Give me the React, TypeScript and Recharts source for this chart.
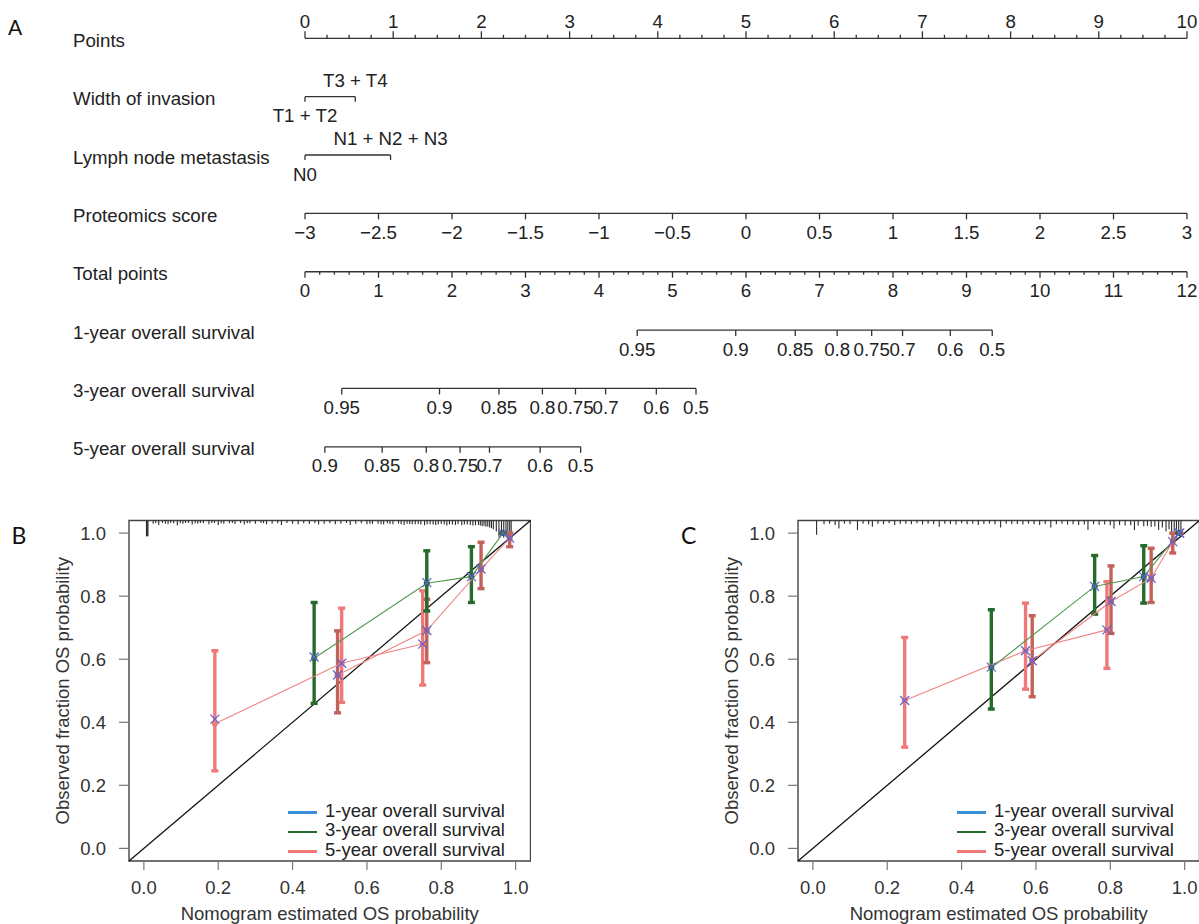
import React from 'react';
import { ScatterChart, Scatter, XAxis, YAxis, ReferenceLine, ReferenceArea, ErrorBar, Legend } from 'recharts';

const FONT = '"Liberation Sans", Arial, Helvetica, sans-serif';
const INK = '#333';
const TXT = '#222';
const NOMO_FS = 18.7;

// ---------- nomogram (panel A) ----------
const rowNames = [
  'Points',
  'Width of invasion',
  'Lymph node metastasis',
  'Proteomics score',
  'Total points',
  '1-year overall survival',
  '3-year overall survival',
  '5-year overall survival',
];
const pointsTicks = [0, 1, 2, 3, 4, 5, 6, 7, 8, 9, 10];
const invasionLevels = ['T1 + T2', 'T3 + T4'];
const invasionPoints = [0, 0.57];
const lymphLevels = ['N0', 'N1 + N2 + N3'];
const lymphPoints = [0, 0.97];
const proteomicsTicks = [-3, -2.5, -2, -1.5, -1, -0.5, 0, 0.5, 1, 1.5, 2, 2.5, 3];
const totalTicks = [0, 1, 2, 3, 4, 5, 6, 7, 8, 9, 10, 11, 12];
const survLabels13 = ['0.95', '0.9', '0.85', '0.8', '0.75', '0.7', '0.6', '0.5'];
const oneYearAt = [4.52, 5.86, 6.67, 7.24, 7.71, 8.13, 8.78, 9.35];
const threeYearAt = [0.5, 1.83, 2.64, 3.23, 3.68, 4.09, 4.78, 5.32];
const survLabels5 = ['0.9', '0.85', '0.8', '0.75', '0.7', '0.6', '0.5'];
const fiveYearAt = [0.27, 1.05, 1.65, 2.11, 2.51, 3.2, 3.75];

type Tick = { x: number; y: number; len: number; dir: number; label?: string; below?: boolean };

const minus = (v: number) => String(v).replace('-', '\u2212');

function pointsRowTicks(): Tick[] {
  const t: Tick[] = [];
  pointsTicks.forEach((v, i) => {
    t.push({ x: v, y: 0, len: 7, dir: -1, label: String(v) });
    if (i < pointsTicks.length - 1) [0.25, 0.5, 0.75].forEach((f) => t.push({ x: v + f, y: 0, len: 3.5, dir: -1 }));
  });
  invasionPoints.forEach((v, i) => t.push({ x: v, y: 1, len: 5, dir: 1, label: invasionLevels[i], below: i === 0 }));
  lymphPoints.forEach((v, i) => t.push({ x: v, y: 2, len: 5, dir: 1, label: lymphLevels[i], below: i === 0 }));
  proteomicsTicks.forEach((s) => t.push({ x: ((s + 3) * 10) / 6, y: 3, len: 6, dir: 1, label: minus(s), below: true }));
  return t;
}

function totalRowTicks(): Tick[] {
  const t: Tick[] = [];
  totalTicks.forEach((v, i) => {
    t.push({ x: v, y: 4, len: 6, dir: 1, label: String(v), below: true });
    if (i < totalTicks.length - 1) [0.2, 0.4, 0.6, 0.8].forEach((f) => t.push({ x: v + f, y: 4, len: 3, dir: 1 }));
  });
  oneYearAt.forEach((v, i) => t.push({ x: v, y: 5, len: 6, dir: 1, label: survLabels13[i], below: true }));
  threeYearAt.forEach((v, i) => t.push({ x: v, y: 6, len: 6, dir: 1, label: survLabels13[i], below: true }));
  fiveYearAt.forEach((v, i) => t.push({ x: v, y: 7, len: 6, dir: 1, label: survLabels5[i], below: true }));
  return t;
}

const NomoTick = (p: any) => {
  const { cx, cy, payload } = p;
  if (cx == null || cy == null) return <g />;
  return (
    <g>
      <line x1={cx} x2={cx} y1={cy} y2={cy + payload.dir * payload.len} stroke={INK} strokeWidth={1.3} />
      {payload.label && (
        <text
          x={cx}
          y={payload.below ? cy + 25.5 : cy - 10}
          textAnchor="middle"
          fontSize={NOMO_FS}
          fontFamily={FONT}
          fill={TXT}
        >
          {payload.label}
        </text>
      )}
    </g>
  );
};

const RowLabel = (p: any) => (
  <text x={73} y={p.y + 8.5} fontSize={NOMO_FS} fontFamily={FONT} fill={TXT} textAnchor="start">
    {rowNames[p.payload.value]}
  </text>
);

function Nomogram() {
  const segs: { id: string; row: number; from: number; to: number }[] = [
    { id: 'pts', row: 0, from: 0, to: 10 },
    { id: 'pts', row: 1, from: invasionPoints[0], to: invasionPoints[1] },
    { id: 'pts', row: 2, from: lymphPoints[0], to: lymphPoints[1] },
    { id: 'pts', row: 3, from: 0, to: 10 },
    { id: 'tot', row: 4, from: 0, to: 12 },
    { id: 'tot', row: 5, from: oneYearAt[0], to: oneYearAt[oneYearAt.length - 1] },
    { id: 'tot', row: 6, from: threeYearAt[0], to: threeYearAt[threeYearAt.length - 1] },
    { id: 'tot', row: 7, from: fiveYearAt[0], to: fiveYearAt[fiveYearAt.length - 1] },
  ];
  return (
    <div style={{ position: 'absolute', left: 0, top: 0 }}>
      <ScatterChart width={1199} height={480} margin={{ top: 38.3, right: 12, bottom: 33.2, left: 0 }}>
        <XAxis xAxisId="pts" type="number" dataKey="x" domain={[0, 10]} hide />
        <XAxis xAxisId="tot" type="number" dataKey="x" domain={[0, 12]} hide />
        <YAxis
          type="number"
          dataKey="y"
          domain={[0, 7]}
          reversed
          ticks={[0, 1, 2, 3, 4, 5, 6, 7]}
          interval={0}
          width={305}
          axisLine={false}
          tickLine={false}
          tick={RowLabel}
        />
        {segs.map((s, i) => (
          <ReferenceLine
            key={i}
            xAxisId={s.id}
            segment={[{ x: s.from, y: s.row }, { x: s.to, y: s.row }]}
            stroke={INK}
            strokeWidth={1.3}
            ifOverflow="visible"
          />
        ))}
        <Scatter xAxisId="pts" data={pointsRowTicks()} shape={NomoTick} isAnimationActive={false} />
        <Scatter xAxisId="tot" data={totalRowTicks()} shape={NomoTick} isAnimationActive={false} />
      </ScatterChart>
    </div>
  );
}

// ---------- calibration (panels B, C) ----------
const probTicks = [0, 0.2, 0.4, 0.6, 0.8, 1.0];

// panel B
const bGreenX = [0.458, 0.761, 0.881, 0.966];
const bGreenY = [0.603, 0.841, 0.862, 1.0];
const bGreenLo = [0.46, 0.753, 0.78, 1.0];
const bGreenHi = [0.78, 0.944, 0.957, 1.0];
const bGreenMark = [0.607, 0.843, 0.862, 1.0];

const bRedX = [0.191, 0.532, 0.75];
const bRedY = [0.395, 0.587, 0.648];
const bRedLo = [0.246, 0.463, 0.518];
const bRedHi = [0.627, 0.762, 0.817];
const bRedMark = [0.41, 0.587, 0.648];

const bBrickX = [0.521, 0.761, 0.907, 0.984];
const bBrickY = [0.55, 0.691, 0.886, 0.984];
const bBrickLo = [0.43, 0.589, 0.824, 0.957];
const bBrickHi = [0.69, 0.79, 0.971, 1.0];
const bBrickMark = [0.55, 0.691, 0.886, 0.984];

const bRugX = [0.007, 0.009, 0.011, 0.025, 0.032, 0.04, 0.05, 0.058, 0.065, 0.072, 0.08, 0.09, 0.098, 0.105, 0.112, 0.12, 0.13, 0.138, 0.145, 0.152, 0.16, 0.175, 0.183, 0.19, 0.2, 0.208, 0.215, 0.23, 0.238, 0.245, 0.26, 0.27, 0.278, 0.285, 0.3, 0.315, 0.322, 0.33, 0.345, 0.36, 0.37, 0.385, 0.4, 0.415, 0.43, 0.445, 0.46, 0.47, 0.485, 0.5, 0.515, 0.53, 0.545, 0.555, 0.57, 0.585, 0.6, 0.608, 0.615, 0.63, 0.638, 0.645, 0.655, 0.662, 0.67, 0.685, 0.692, 0.7, 0.708, 0.715, 0.722, 0.73, 0.738, 0.745, 0.755, 0.762, 0.77, 0.778, 0.785, 0.792, 0.8, 0.808, 0.815, 0.822, 0.83, 0.838, 0.845, 0.855, 0.862, 0.87, 0.878, 0.885, 0.892, 0.9, 0.905, 0.91, 0.915, 0.92, 0.925, 0.93, 0.935, 0.94, 0.948, 0.955, 0.962, 0.968, 0.974, 0.979, 0.984, 0.988];
const bRugLen = [0.05, 0.05, 0.05, 0.01, 0.008, 0.014, 0.008, 0.01, 0.012, 0.008, 0.009, 0.015, 0.009, 0.01, 0.008, 0.008, 0.013, 0.009, 0.01, 0.008, 0.009, 0.012, 0.008, 0.008, 0.014, 0.009, 0.01, 0.009, 0.008, 0.011, 0.008, 0.013, 0.009, 0.009, 0.01, 0.008, 0.009, 0.012, 0.01, 0.009, 0.014, 0.008, 0.01, 0.012, 0.009, 0.011, 0.008, 0.013, 0.01, 0.009, 0.012, 0.01, 0.008, 0.014, 0.01, 0.009, 0.012, 0.01, 0.011, 0.01, 0.012, 0.013, 0.009, 0.011, 0.012, 0.01, 0.012, 0.014, 0.01, 0.011, 0.012, 0.012, 0.011, 0.013, 0.015, 0.012, 0.012, 0.013, 0.014, 0.012, 0.011, 0.013, 0.016, 0.012, 0.013, 0.014, 0.012, 0.015, 0.013, 0.013, 0.014, 0.016, 0.015, 0.014, 0.016, 0.018, 0.017, 0.02, 0.019, 0.022, 0.024, 0.028, 0.035, 0.05, 0.045, 0.055, 0.05, 0.055, 0.052, 0.04];

// panel C
const cGreenX = [0.48, 0.758, 0.89, 0.985];
const cGreenY = [0.573, 0.831, 0.862, 1.0];
const cGreenLo = [0.442, 0.743, 0.778, 1.0];
const cGreenHi = [0.757, 0.929, 0.96, 1.0];
const cGreenMark = [0.575, 0.831, 0.862, 1.0];

const cRedX = [0.247, 0.572, 0.791];
const cRedY = [0.469, 0.627, 0.693];
const cRedLo = [0.321, 0.505, 0.571];
const cRedHi = [0.669, 0.778, 0.846];
const cRedMark = [0.469, 0.627, 0.693];

const cBrickX = [0.59, 0.802, 0.91, 0.968, 0.987];
const cBrickY = [0.595, 0.783, 0.857, 0.973, 1.0];
const cBrickLo = [0.481, 0.682, 0.78, 0.937, 1.0];
const cBrickHi = [0.738, 0.896, 0.952, 1.0, 1.0];
const cBrickMark = [0.595, 0.783, 0.857, 0.973, 1.0];

const cRugX = [0.01, 0.03, 0.045, 0.06, 0.07, 0.085, 0.1, 0.12, 0.135, 0.15, 0.16, 0.175, 0.19, 0.205, 0.22, 0.235, 0.25, 0.265, 0.28, 0.295, 0.31, 0.325, 0.34, 0.355, 0.37, 0.385, 0.4, 0.415, 0.43, 0.445, 0.46, 0.475, 0.49, 0.505, 0.52, 0.535, 0.55, 0.565, 0.58, 0.595, 0.61, 0.625, 0.64, 0.655, 0.67, 0.685, 0.7, 0.715, 0.73, 0.74, 0.755, 0.77, 0.785, 0.8, 0.81, 0.825, 0.84, 0.855, 0.865, 0.875, 0.89, 0.9, 0.91, 0.92, 0.93, 0.94, 0.95, 0.958, 0.965, 0.972, 0.978, 0.984, 0.99];
const cRugLen = [0.045, 0.012, 0.01, 0.014, 0.025, 0.01, 0.012, 0.03, 0.01, 0.013, 0.02, 0.01, 0.012, 0.009, 0.014, 0.011, 0.01, 0.012, 0.009, 0.013, 0.01, 0.012, 0.02, 0.01, 0.011, 0.013, 0.009, 0.012, 0.01, 0.014, 0.011, 0.01, 0.012, 0.022, 0.01, 0.012, 0.011, 0.013, 0.01, 0.012, 0.014, 0.011, 0.022, 0.012, 0.01, 0.013, 0.012, 0.014, 0.013, 0.03, 0.012, 0.014, 0.013, 0.015, 0.025, 0.014, 0.016, 0.015, 0.03, 0.016, 0.018, 0.017, 0.02, 0.019, 0.03, 0.022, 0.035, 0.028, 0.04, 0.035, 0.045, 0.04, 0.045];

const GREEN = '#246b2c';
const GREEN_LINE = '#4f9a4f';
const RED = '#f07878';
const RED_LINE = '#f08484';
const BRICK = '#c2625a';
const BLUE = '#6464d2';

const legendItems = [
  { name: '1-year overall survival', color: '#3b8fd6' },
  { name: '3-year overall survival', color: GREEN },
  { name: '5-year overall survival', color: RED },
];

const series = (xs: number[], ys: number[], lo: number[], hi: number[], mark: number[]) =>
  xs.map((x, i) => ({ x, y: ys[i], err: [ys[i] - lo[i], hi[i] - ys[i]], mark: mark[i] }));

const rug = (xs: number[], lens: number[]) => xs.map((x, i) => ({ x, y: 1.04, err: [lens[i] ?? 0.01, 0] }));

const errOf = (p: any) => (p && p.payload ? p.payload.err : p.err);

const Dot = (color: string) => (p: any) =>
  p.cx == null ? <g /> : <circle cx={p.cx} cy={p.cy} r={3} fill={color} />;

const Cross = (p: any) => {
  if (p.cx == null) return <g />;
  const s = 4.5;
  return (
    <g stroke={BLUE} strokeWidth={1.3}>
      <line x1={p.cx - s} y1={p.cy - s} x2={p.cx + s} y2={p.cy + s} />
      <line x1={p.cx - s} y1={p.cy + s} x2={p.cx + s} y2={p.cy - s} />
    </g>
  );
};

const Nothing = () => <g />;

const CalLegend = () => (
  <div style={{ fontFamily: FONT, fontSize: 18.5, color: TXT }}>
    {legendItems.map((it) => (
      <div key={it.name} style={{ height: 19.3, lineHeight: '19.3px', whiteSpace: 'nowrap', display: 'flex', alignItems: 'center' }}>
        <span style={{ display: 'inline-block', width: 29, height: 2.6, background: it.color, marginRight: 8, marginTop: 4 }} />
        <span>{it.name}</span>
      </div>
    ))}
  </div>
);

type CalProps = {
  left: number;
  green: any[];
  red: any[];
  brick: any[];
  rugData: any[];
};

function CalPanel({ left, green, red, brick, rugData }: CalProps) {
  const axisFont = { fill: '#333', fontSize: 18.5, fontFamily: FONT };
  const sets = [
    { data: red, color: RED, line: RED_LINE },
    { data: brick, color: BRICK, line: RED_LINE },
    { data: green, color: GREEN, line: GREEN_LINE },
  ];
  return (
    <div style={{ position: 'absolute', left, top: 480 }}>
      <ScatterChart width={530.5} height={444} margin={{ top: 40.5, right: 0, bottom: 0, left: 0 }}>
        <XAxis
          type="number"
          dataKey="x"
          domain={[-0.04, 1.04]}
          allowDataOverflow
          ticks={probTicks}
          interval={0}
          tickFormatter={(v: number) => v.toFixed(1)}
          height={63}
          tickSize={9}
          tickMargin={10.5}
          axisLine={false}
          tickLine={{ stroke: '#777', strokeWidth: 1.2 }}
          tick={axisFont}
          label={{ value: 'Nomogram estimated OS probability', position: 'insideBottom', offset: 4.5, ...axisFont }}
        />
        <YAxis
          type="number"
          dataKey="y"
          domain={[-0.04, 1.04]}
          allowDataOverflow
          ticks={probTicks}
          interval={0}
          tickFormatter={(v: number) => v.toFixed(1)}
          width={129}
          tickSize={10}
          tickMargin={13}
          axisLine={false}
          tickLine={{ stroke: '#777', strokeWidth: 1.2 }}
          tick={axisFont}
          label={{
            value: 'Observed fraction OS probability',
            angle: -90,
            position: 'insideLeft',
            offset: 62,
            style: { textAnchor: 'middle' },
            ...axisFont,
          }}
        />
        <ReferenceLine
          segment={[{ x: -0.04, y: -0.04 }, { x: 1.04, y: 1.04 }]}
          stroke="#111"
          strokeWidth={1.3}
          ifOverflow="visible"
        />
        <Scatter data={rugData} shape={Nothing} isAnimationActive={false}>
          <ErrorBar dataKey={errOf} direction="y" width={0} stroke="#2a2a2a" strokeWidth={1.1} isAnimationActive={false} />
        </Scatter>
        {sets.map((s, i) => (
          <Scatter
            key={i}
            data={s.data}
            fill={s.color}
            shape={Dot(s.color)}
            line={{ stroke: s.line, strokeWidth: 1.1 }}
            lineType="joint"
            isAnimationActive={false}
          >
            <ErrorBar dataKey={errOf} direction="y" width={3.5} stroke={s.color} strokeWidth={3.4} isAnimationActive={false} />
          </Scatter>
        ))}
        {sets.map((s, i) => (
          <Scatter
            key={'m' + i}
            data={s.data.map((d: any) => ({ x: d.x, y: d.mark }))}
            shape={Cross}
            isAnimationActive={false}
          />
        ))}
        <ReferenceArea x1={-0.04} x2={1.04} y1={-0.04} y2={1.04} fill="none" stroke="#444" strokeWidth={1.4} ifOverflow="visible" />
        <Legend
          layout="horizontal"
          verticalAlign="middle"
          align="center"
          content={CalLegend}
          wrapperStyle={{ left: 288, top: 321, width: 240 }}
        />
      </ScatterChart>
    </div>
  );
}

export default function App() {
  return (
    <div style={{ position: 'absolute', left: 0, top: 0, width: 1199, height: 924, background: '#fff', overflow: 'hidden' }}>
      <Nomogram />
      <CalPanel
        left={0}
        green={series(bGreenX, bGreenY, bGreenLo, bGreenHi, bGreenMark)}
        red={series(bRedX, bRedY, bRedLo, bRedHi, bRedMark)}
        brick={series(bBrickX, bBrickY, bBrickLo, bBrickHi, bBrickMark)}
        rugData={rug(bRugX, bRugLen)}
      />
      <CalPanel
        left={669}
        green={series(cGreenX, cGreenY, cGreenLo, cGreenHi, cGreenMark)}
        red={series(cRedX, cRedY, cRedLo, cRedHi, cRedMark)}
        brick={series(cBrickX, cBrickY, cBrickLo, cBrickHi, cBrickMark)}
        rugData={rug(cRugX, cRugLen)}
      />
      <svg width={1199} height={924} style={{ position: 'absolute', left: 0, top: 0, pointerEvents: 'none' }}>
        <g fontFamily="Lato, 'Open Sans', sans-serif" fill="#111">
          <text x={8} y={35} fontSize={21}>A</text>
          <text x={11.5} y={543.5} fontSize={23}>B</text>
          <text x={681} y={543.5} fontSize={23}>C</text>
        </g>
      </svg>
    </div>
  );
}
